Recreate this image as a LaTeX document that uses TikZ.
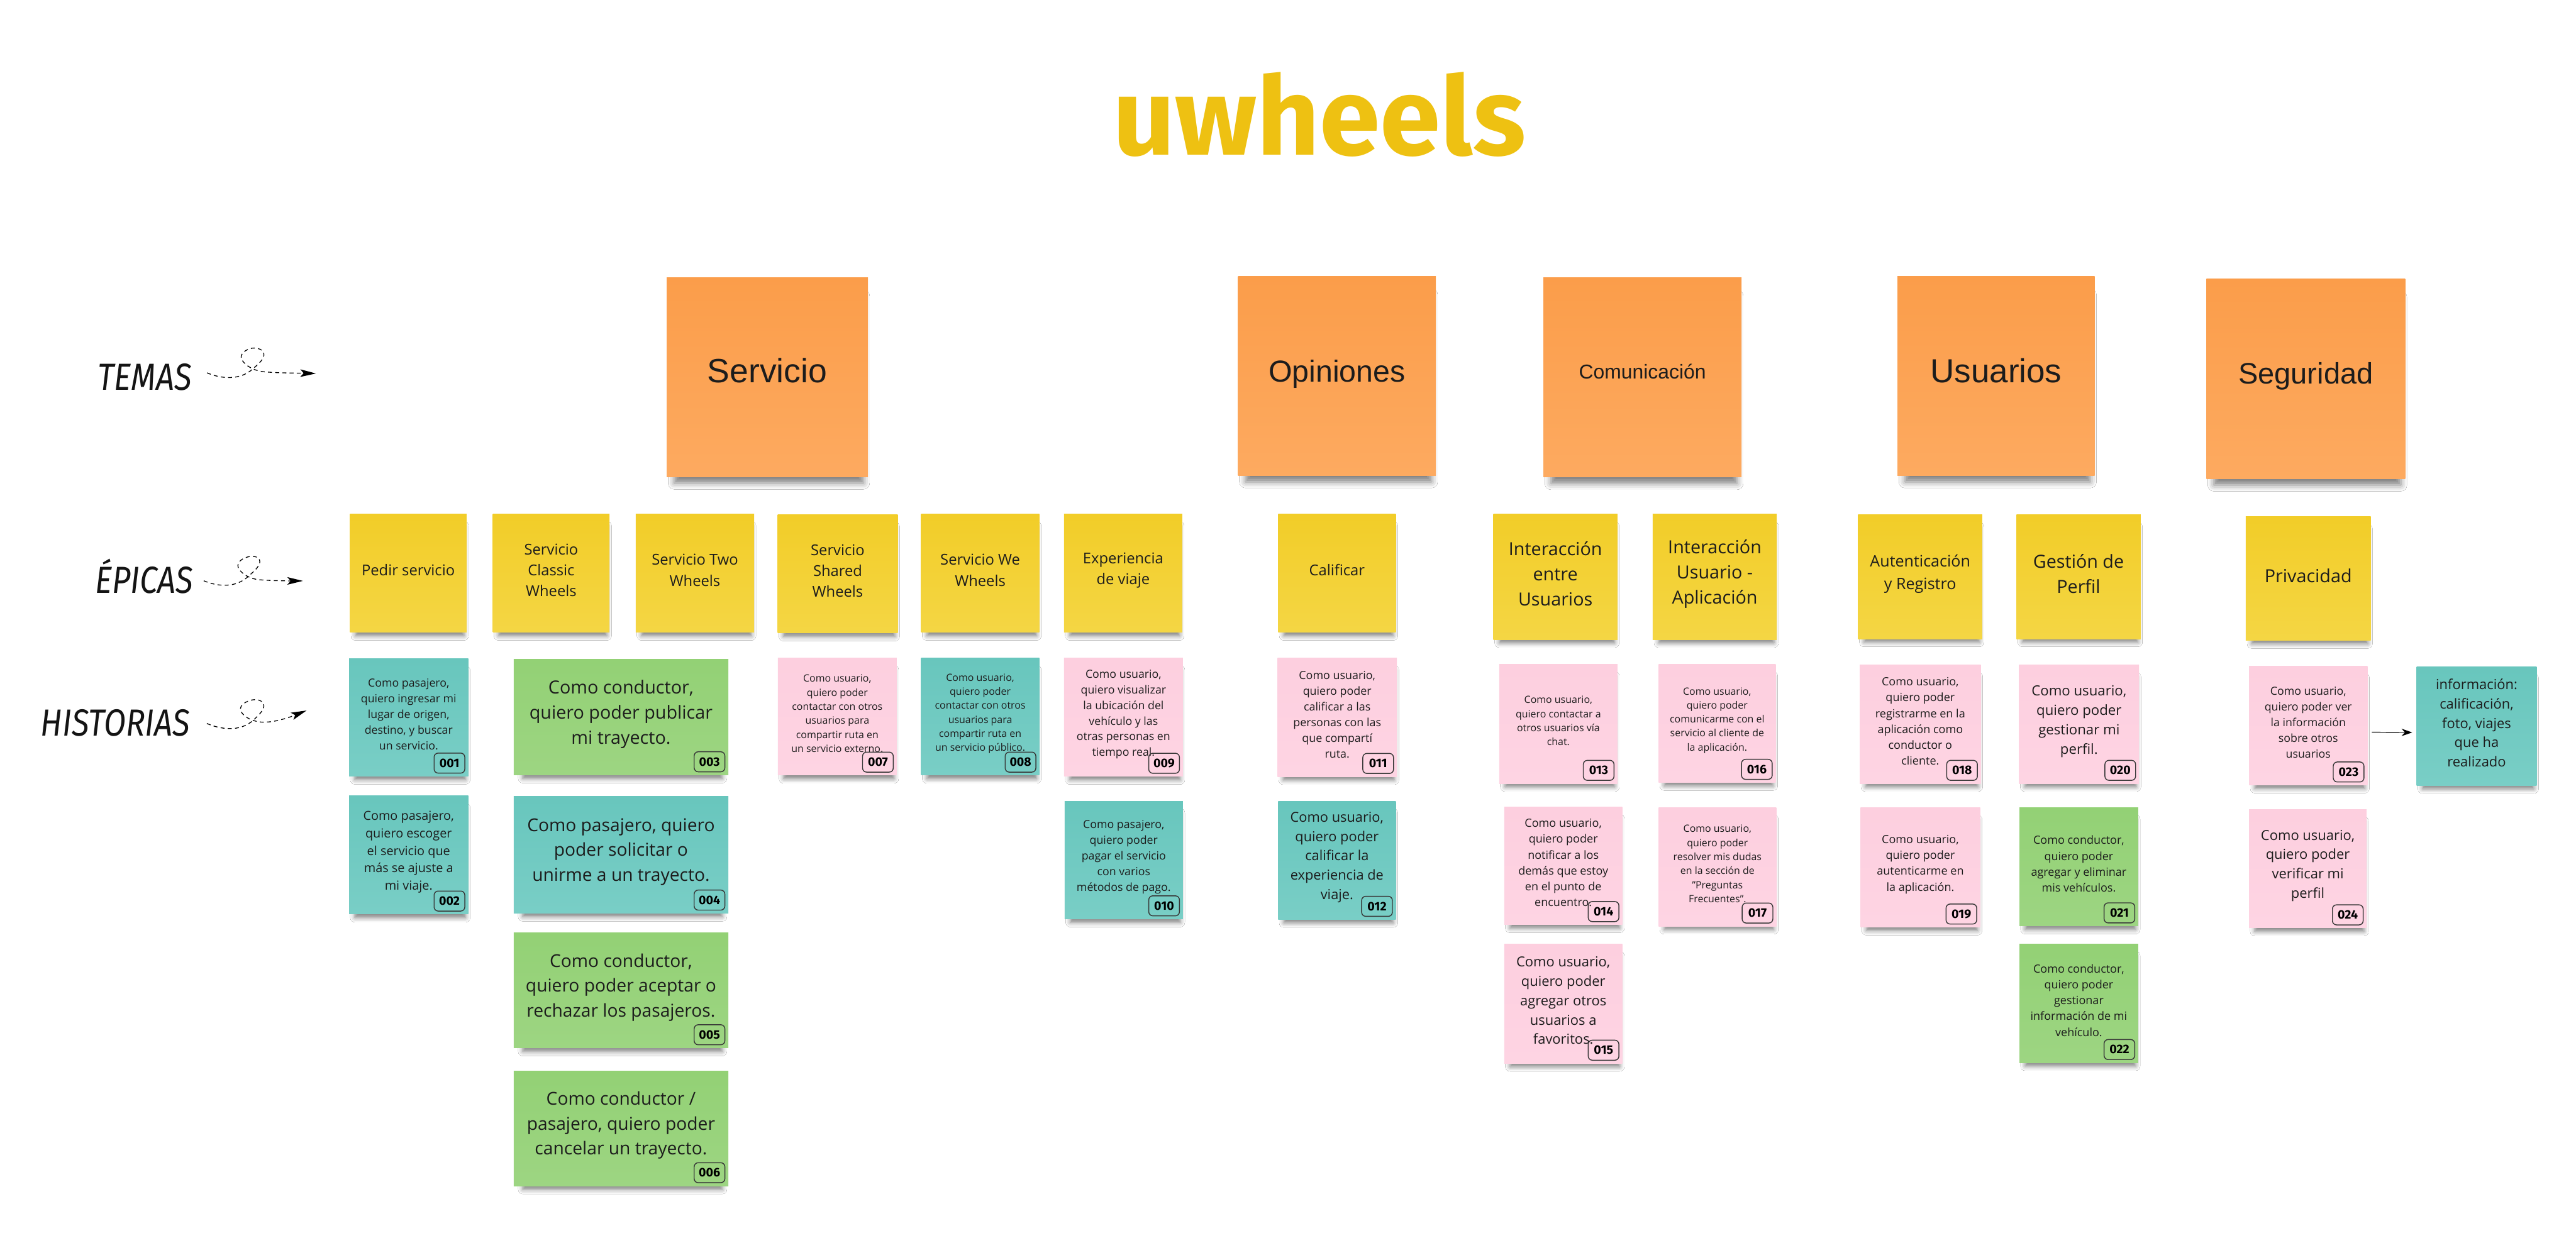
\documentclass[tikz,border=0pt]{standalone}
\usepackage{fontspec}
\setmainfont{Open Sans}
\newfontfamily\arialf{Liberation Sans}
\newfontfamily\firaf{Fira Sans}
\usetikzlibrary{shadows.blur,arrows.meta}
\definecolor{textc}{HTML}{1C1C1C}
\definecolor{titlec}{HTML}{EEC112}
\tikzset{
  note/.style={rectangle, inner sep=0pt, draw=none,
    blur shadow={shadow xshift=1pt, shadow yshift=-5pt, shadow scale=0.93, shadow blur radius=3pt, shadow opacity=50}},
  bignote/.style={rectangle, inner sep=0pt, draw=none,
    blur shadow={shadow xshift=1pt, shadow yshift=-8pt, shadow scale=0.94, shadow blur radius=4pt, shadow opacity=50}},
  orangenote/.style={top color={rgb,255:red,251;green,157;blue,74}, bottom color={rgb,255:red,253;green,170;blue,96}},
  yellownote/.style={top color={rgb,255:red,242;green,205;blue,40}, bottom color={rgb,255:red,244;green,214;blue,68}},
  tealnote/.style={top color={rgb,255:red,104;green,198;blue,189}, bottom color={rgb,255:red,121;green,206;blue,198}},
  greennote/.style={top color={rgb,255:red,147;green,209;blue,117}, bottom color={rgb,255:red,157;green,213;blue,130}},
  pinknote/.style={top color={rgb,255:red,253;green,207;blue,223}, bottom color={rgb,255:red,254;green,212;blue,227}},
  notetext/.style={align=center, inner sep=0pt, text=textc},
  badge/.style={draw=black!78, line width=0.55pt, rounded corners=2.5pt, minimum width=18.7pt, minimum height=12.2pt, inner sep=0pt, text=black, font=\firaf\bfseries\fontsize{7.5pt}{8pt}\selectfont},
  sidelabel/.style={anchor=base east, inner sep=0pt, xscale=0.85, text=black!92, font=\firaf\itshape\fontsize{23pt}{26pt}\selectfont},
  looparrow/.style={line width=0.5pt, dash pattern=on 2.4pt off 2pt, -{Stealth[length=9.5pt,width=4.6pt,inset=2pt]}},
  linkarrow/.style={line width=0.45pt, -{Stealth[length=6.5pt,width=4.5pt]}},
}
\newcommand\stickynote[8]{%
  \pgfmathsetmacro\notelead{1.4*#7}%
  \node[note, #6, minimum width={(#4-#2)*1pt}, minimum height={(#5-#3)*1pt}] (#1) at ({(#2+#4)/2},{(#3+#5)/2}) {};%
  \node[notetext, font=\fontsize{#7pt}{\notelead pt}\selectfont] (#1-t) at ([yshift=1.8pt]#1.center) {#8};%
}
\newcommand\notebadge[2]{%
  \node[badge, anchor=south east] (#1-b) at ([xshift=-2pt,yshift=1.8pt]#1.south east) {#2};%
}
\newcommand\topicnote[8]{%
  \node[bignote, orangenote, minimum width={(#4-#2)*1pt}, minimum height={(#5-#3)*1pt}] (#1) at ({(#2+#4)/2},{(#3+#5)/2}) {};%
  \node[anchor=base, inner sep=0pt, text=textc, font=\arialf\fontsize{#7pt}{#7pt}\selectfont] (#1-t) at ({(#2+#4)/2},#6) {#8};%
}
\begin{document}
\begin{tikzpicture}[x=1pt,y=-1pt]
\fill[white] (0,0) rectangle (1568,756.6);
\useasboundingbox (0,0) rectangle (1568,756.6);

% title
\node[anchor=base, inner sep=0pt, text=titlec, font=\firaf\bfseries\fontsize{66.5pt}{72pt}\selectfont] (title) at (803,94.5) {uwheels};

% side labels
\node[sidelabel] (temas) at (116.8,237.7) {TEMAS};
\node[sidelabel] (epicas) at (117.8,361.3) {ÉPICAS};
\node[sidelabel] (historias) at (115.8,448) {HISTORIAS};

\coordinate (ta0) at (126,227);
\coordinate (ta1) at (192.3,227.4);
\draw[looparrow] (ta0) .. controls (134,230.5) and (146,232) .. (154,224.5)
  .. controls (157.5,221.5) and (161.5,218) .. (160.5,215)
  .. controls (159.5,212) and (155,211.5) .. (152.5,212.2)
  .. controls (148,213.5) and (145.5,216.5) .. (147.5,219.5)
  .. controls (149.5,222.5) and (154,225.5) .. (160,226.3)
  .. controls (167,227) and (175,227.1) .. (183,227.2) -- (ta1);

\coordinate (ea0) at (124,353.6);
\coordinate (ea1) at (184.4,353.7);
\draw[looparrow] (ea0) .. controls (132,357) and (143.5,358.5) .. (151.6,350.5)
  .. controls (155,347.5) and (159,344) .. (158,341)
  .. controls (157,338.5) and (153,338.3) .. (150.5,339.2)
  .. controls (146,340.5) and (143.5,343.5) .. (145.5,346.5)
  .. controls (147.5,349.5) and (152,352.5) .. (158,353)
  .. controls (164,353.5) and (170,353.6) .. (176,353.7) -- (ea1);

\coordinate (ha0) at (125.9,440.5);
\coordinate (ha1) at (186.6,432.6);
\draw[looparrow] (ha0) .. controls (134,444) and (146,446) .. (154.3,438.4)
  .. controls (158,435) and (161.5,431.5) .. (160.4,428.7)
  .. controls (159.4,425.8) and (155,425.6) .. (152.5,426.4)
  .. controls (148,427.7) and (145,430.5) .. (147,433.7)
  .. controls (149,436.8) and (154,439.5) .. (160,439.7)
  .. controls (167,439.7) and (172,438) .. (177,436.4) -- (ha1);

% topics
\topicnote{t1}{405.8}{169}{528.3}{290.3}{233.1}{20.5}{Servicio}
\topicnote{t2}{753.6}{168.4}{874}{289.5}{232.6}{18.5}{Opiniones}
\topicnote{t3}{939.5}{169}{1060}{290.5}{230.7}{12.2}{Comunicación}
\topicnote{t4}{1155}{168.4}{1275}{289.5}{233.1}{20.3}{Usuarios}
\topicnote{t5}{1343}{169.8}{1464}{291.5}{233.6}{18}{Seguridad}

% epics
\stickynote{e1}{213}{313}{284}{385}{yellownote}{9.1}{Pedir servicio}
\stickynote{e2}{300}{313}{371}{385}{yellownote}{9.1}{Servicio\\Classic\\Wheels}
\stickynote{e3}{387}{313}{459}{385}{yellownote}{9.1}{Servicio Two\\Wheels}
\stickynote{e4}{473.4}{313.4}{546.4}{385.4}{yellownote}{9.1}{Servicio\\Shared\\Wheels}
\stickynote{e5}{560.7}{313}{632.6}{385}{yellownote}{9.1}{Servicio We\\Wheels}
\stickynote{e6}{647.7}{313}{719.6}{385}{yellownote}{9.1}{Experiencia\\de viaje}
\stickynote{e7}{778}{313}{849.6}{385}{yellownote}{9.1}{Calificar}
\stickynote{e8}{909}{313}{984.5}{389.5}{yellownote}{11}{Interacción\\entre\\Usuarios}
\stickynote{e9}{1006}{313}{1081.5}{389.5}{yellownote}{11}{Interacción\\Usuario -\\Aplicación}
\stickynote{e10}{1131}{313.5}{1206.6}{389}{yellownote}{9.6}{Autenticación\\y Registro}
\stickynote{e11}{1227.4}{313.5}{1303}{389}{yellownote}{11}{Gestión de\\Perfil}
\stickynote{e12}{1367}{314.6}{1443}{390}{yellownote}{11}{Privacidad}

% stories
\stickynote{s1}{212.5}{401}{285}{472.6}{tealnote}{6.8}{Como pasajero,\\quiero ingresar mi\\lugar de origen,\\destino, y buscar\\un servicio.}
\notebadge{s1}{001}
\stickynote{s2}{212.5}{484.5}{285}{556.6}{tealnote}{7.6}{Como pasajero,\\quiero escoger\\el servicio que\\más se ajuste a\\mi viaje.}
\notebadge{s2}{002}
\stickynote{s3}{312.7}{401.5}{443.3}{471.8}{greennote}{11}{Como conductor,\\quiero poder publicar\\mi trayecto.}
\notebadge{s3}{003}
\stickynote{s4}{312.7}{485}{443.3}{556}{tealnote}{10.8}{Como pasajero, quiero\\poder solicitar o\\unirme a un trayecto.}
\notebadge{s4}{004}
\stickynote{s5}{312.7}{568}{443.3}{638}{greennote}{10.8}{Como conductor,\\quiero poder aceptar o\\rechazar los pasajeros.}
\notebadge{s5}{005}
\stickynote{s6}{312.7}{652}{443.3}{722}{greennote}{10.8}{Como conductor /\\pasajero, quiero poder\\cancelar un trayecto.}
\notebadge{s6}{006}
\stickynote{s7}{473.5}{400.6}{545.8}{472}{pinknote}{6.1}{Como usuario,\\quiero poder\\contactar con otros\\usuarios para\\compartir ruta en\\un servicio externo.}
\notebadge{s7}{007}
\stickynote{s8}{560.7}{400.6}{632.6}{472}{tealnote}{6.1}{Como usuario,\\quiero poder\\contactar con otros\\usuarios para\\compartir ruta en\\un servicio público.}
\notebadge{s8}{008}
\stickynote{s9}{647.7}{400.8}{720}{472.7}{pinknote}{6.8}{Como usuario,\\quiero visualizar\\la ubicación del\\vehículo y las\\otras personas en\\tiempo real.}
\notebadge{s9}{009}
\stickynote{s10}{648}{487.8}{720}{559.5}{tealnote}{6.8}{Como pasajero,\\quiero poder\\pagar el servicio\\con varios\\métodos de pago.}
\notebadge{s10}{010}
\stickynote{s11}{777.6}{400.7}{850.3}{472.8}{pinknote}{6.85}{Como usuario,\\quiero poder\\calificar a las\\personas con las\\que compartí\\ruta.}
\notebadge{s11}{011}
\stickynote{s12}{778}{487.8}{849.6}{559.8}{tealnote}{8.35}{Como usuario,\\quiero poder\\calificar la\\experiencia de\\viaje.}
\notebadge{s12}{012}
\stickynote{s13}{912.6}{404.4}{984.5}{477}{pinknote}{6.1}{Como usuario,\\quiero contactar a\\otros usuarios vía\\chat.}
\notebadge{s13}{013}
\stickynote{s14}{915.6}{491.2}{987.5}{563}{pinknote}{6.9}{Como usuario,\\quiero poder\\notificar a los\\demás que estoy\\en el punto de\\encuentro.}
\notebadge{s14}{014}
\stickynote{s15}{915.6}{574.7}{987.5}{647.4}{pinknote}{8.4}{Como usuario,\\quiero poder\\agregar otros\\usuarios a\\favoritos.}
\notebadge{s15}{015}
\stickynote{s16}{1009.6}{404.4}{1080.8}{476.4}{pinknote}{6.1}{Como usuario,\\quiero poder\\comunicarme con el\\servicio al cliente de\\la aplicación.}
\notebadge{s16}{016}
\stickynote{s17}{1009.6}{491.6}{1081.2}{563.9}{pinknote}{6.1}{Como usuario,\\quiero poder\\resolver mis dudas\\en la sección de\\"Preguntas\\Frecuentes".}
\notebadge{s17}{017}
\stickynote{s18}{1132}{404.9}{1205.7}{477}{pinknote}{6.9}{Como usuario,\\quiero poder\\registrarme en la\\aplicación como\\conductor o\\cliente.}
\notebadge{s18}{018}
\stickynote{s19}{1132.5}{491.7}{1205.3}{564.5}{pinknote}{6.9}{Como usuario,\\quiero poder\\autenticarme en\\la aplicación.}
\notebadge{s19}{019}
\stickynote{s20}{1229}{404.9}{1302}{477}{pinknote}{8.5}{Como usuario,\\quiero poder\\gestionar mi\\perfil.}
\notebadge{s20}{020}
\stickynote{s21}{1229.2}{491.7}{1301.5}{563.8}{greennote}{6.9}{Como conductor,\\quiero poder\\agregar y eliminar\\mis vehículos.}
\notebadge{s21}{021}
\stickynote{s22}{1229.2}{574.7}{1301.5}{647}{greennote}{6.9}{Como conductor,\\quiero poder\\gestionar\\información de mi\\vehículo.}
\notebadge{s22}{022}
\stickynote{s23}{1369}{405.5}{1441}{478}{pinknote}{6.8}{Como usuario,\\quiero poder ver\\la información\\sobre otros\\usuarios}
\notebadge{s23}{023}
\stickynote{s24}{1369}{492.8}{1440.5}{565}{pinknote}{8.4}{Como usuario,\\quiero poder\\verificar mi\\perfil}
\notebadge{s24}{024}
\stickynote{info}{1471}{405.8}{1544}{478.2}{tealnote}{8.4}{información:\\calificación,\\foto, viajes\\que ha\\realizado}

\draw[linkarrow, shorten <=2.5pt, shorten >=2.5pt] ([yshift=-4pt]s23.east) -- ([yshift=-4pt]info.west);
\end{tikzpicture}
\end{document}
